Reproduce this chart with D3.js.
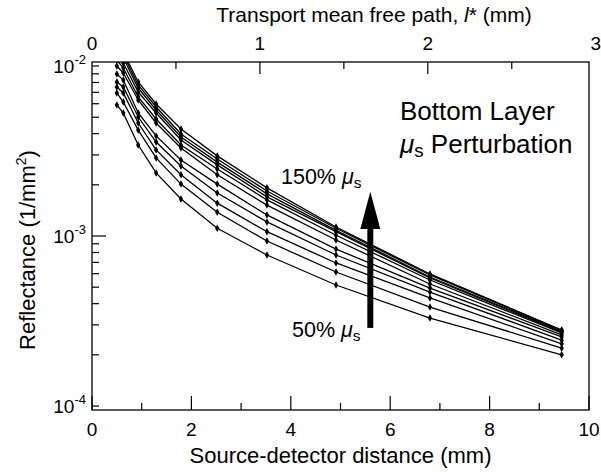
<!DOCTYPE html>
<html><head><meta charset="utf-8">
<script src="https://cdn.jsdelivr.net/npm/d3@7"></script>
<style>
body{margin:0;background:#fff}
svg{display:block}
text{font-family:"Liberation Sans",Arial,Helvetica,sans-serif;fill:#000}
</style>
</head><body><div id="chart"></div>
<script>
// ---- data ----
const distances = [0.5, 0.63, 0.93, 1.29, 1.79, 2.52, 3.52, 4.91, 6.8, 9.45]; // mm
const seriesLabels = ["50%","60%","70%","80%","90%","100%","110%","120%","130%","140%","150%"];
const r50  = [0.0059, 0.00529, 0.00343, 0.00235, 0.00165, 0.00111, 0.000773, 0.000515, 0.000329, 0.000200];
const r60  = [0.00694, 0.00614, 0.0042, 0.00288, 0.00202, 0.00138, 0.000934, 0.000614, 0.000382, 0.000219];
const r70  = [0.00753, 0.00694, 0.00462, 0.00321, 0.00229, 0.00156, 0.00106, 0.000694, 0.000432, 0.000232];
const r80  = [0.00805, 0.00753, 0.00501, 0.00357, 0.00258, 0.00179, 0.00121, 0.000773, 0.000468, 0.000244];
const r90  = [0.00897, 0.00827, 0.00529, 0.00388, 0.0028, 0.00202, 0.00133, 0.000838, 0.000494, 0.000255];
const r100 = [0.0100, 0.00909, 0.00631, 0.00462, 0.00329, 0.00229, 0.00152, 0.000947, 0.000522, 0.000262];
const r110 = [0.01085, 0.00973, 0.00657, 0.00488, 0.00343, 0.00248, 0.00163, 0.00101, 0.000551, 0.000269];
const r120 = [0.01145, 0.01041, 0.00703, 0.00529, 0.00367, 0.00262, 0.0017, 0.00106, 0.000566, 0.000272];
const r130 = [0.01225, 0.01115, 0.00742, 0.00551, 0.00382, 0.00272, 0.00177, 0.00108, 0.000574, 0.000276];
const r140 = [0.01276, 0.01161, 0.00773, 0.00574, 0.00398, 0.00284, 0.00184, 0.00111, 0.00059, 0.000279];
const r150 = [0.01329, 0.01209, 0.00805, 0.00598, 0.00426, 0.00296, 0.00192, 0.00113, 0.000598, 0.00028];
const seriesValues = [r50, r60, r70, r80, r90, r100, r110, r120, r130, r140, r150];

const xTicksMajor = [0, 2, 4, 6, 8, 10];
const xTicksMinor = [1, 3, 5, 7, 9];
const topTicksLabels = [0, 1, 2, 3];
const topTicksAll = [0.5, 1, 1.5, 2, 2.5];
const yDecades = [1e-4, 1e-3, 1e-2];
const yDecadeExp = ["-4", "-3", "-2"];

// ---- layout ----
const W = 601, H = 472;
const L = 92, R = 589, T = 62, B = 410;

const svg = d3.select("#chart").append("svg").attr("width", W).attr("height", H);

const x = d3.scaleLinear().domain([0, 10]).range([L, R]);
const xTop = d3.scaleLinear().domain([0, 2.96]).range([L, R]);
const y = d3.scaleLog().domain([9.473e-5, 0.010557]).range([B, T]);

svg.append("defs").append("clipPath").attr("id", "clip")
  .append("rect").attr("x", L).attr("y", T).attr("width", R - L).attr("height", B - T);

// frame
svg.append("rect").attr("x", L).attr("y", T).attr("width", R - L).attr("height", B - T)
  .attr("fill", "none").attr("stroke", "#000").attr("stroke-width", 1.3);

// bottom ticks (inward)
const tickG = svg.append("g").attr("stroke", "#000").attr("stroke-width", 1.2);
xTicksMajor.forEach(v => tickG.append("line").attr("x1", x(v)).attr("x2", x(v)).attr("y1", B).attr("y2", B - 14));
xTicksMinor.forEach(v => tickG.append("line").attr("x1", x(v)).attr("x2", x(v)).attr("y1", B).attr("y2", B - 7));
svg.append("g").selectAll("text").data(xTicksMajor).join("text")
  .attr("x", d => x(d)).attr("y", 436).attr("text-anchor", "middle").attr("font-size", 19)
  .text(d => d);

// top ticks
topTicksAll.forEach(v => tickG.append("line").attr("x1", xTop(v)).attr("x2", xTop(v)).attr("y1", T)
  .attr("y2", T + (Number.isInteger(v) ? 12 : 7)));
svg.append("g").selectAll("text").data(topTicksLabels).join("text")
  .attr("x", d => xTop(d)).attr("y", 50).attr("text-anchor", "middle").attr("font-size", 19)
  .text(d => d);

// y ticks (log)
const yMinor = [];
[1e-4, 1e-3].forEach(dec => { for (let k = 2; k <= 9; k++) yMinor.push(dec * k); });
yMinor.forEach(v => tickG.append("line").attr("x1", L).attr("x2", L + 7).attr("y1", y(v)).attr("y2", y(v)));
yDecades.forEach(v => tickG.append("line").attr("x1", L).attr("x2", L + (v === 1e-3 ? 14 : 7)).attr("y1", y(v)).attr("y2", y(v)));
yDecades.forEach((v, i) => {
  const t = svg.append("text").attr("x", 86).attr("y", y(v) + 7).attr("text-anchor", "end").attr("font-size", 19);
  t.append("tspan").text("10");
  t.append("tspan").attr("font-size", 13).attr("dy", -9).text(yDecadeExp[i]);
});

// axis titles
const tt = svg.append("text").attr("x", 374).attr("y", 22).attr("text-anchor", "middle").attr("font-size", 21);
tt.append("tspan").text("Transport mean free path, ");
tt.append("tspan").attr("font-style", "italic").text("l");
tt.append("tspan").text("* (mm)");

svg.append("text").attr("x", (L + R) / 2).attr("y", 463).attr("text-anchor", "middle").attr("font-size", 22)
  .text("Source-detector distance (mm)");

const yl = svg.append("text").attr("transform", "translate(35,250) rotate(-90)").attr("text-anchor", "middle").attr("font-size", 22);
yl.append("tspan").text("Reflectance (1/mm");
yl.append("tspan").attr("font-size", 14).attr("dy", -9).text("2");
yl.append("tspan").attr("dy", 9).text(")");

// curves
const plot = svg.append("g").attr("clip-path", "url(#clip)");
const line = d3.line().x((d, i) => x(distances[i])).y(d => y(d));
seriesValues.forEach(vals => {
  plot.append("path").datum(vals).attr("d", line).attr("fill", "none").attr("stroke", "#000").attr("stroke-width", 1.3);
  plot.append("g").selectAll("path").data(vals).join("path")
    .attr("transform", (d, i) => `translate(${x(distances[i])},${y(d)})`)
    .attr("d", d3.symbol().type(d3.symbolDiamond).size(16)).attr("fill", "#000");
});

// annotations
function muS(sel, xPos, yPos, prefix, size) {
  const t = sel.append("text").attr("x", xPos).attr("y", yPos).attr("font-size", size);
  if (prefix) t.append("tspan").text(prefix);
  t.append("tspan").attr("font-style", "italic").text("\u03bc");
  t.append("tspan").attr("font-size", size * 0.72).attr("dy", 4).text("s");
  return t;
}
svg.append("text").attr("x", 400).attr("y", 120).attr("font-size", 26).text("Bottom Layer");
const pt = muS(svg, 400, 153, "", 26);
pt.append("tspan").attr("dy", -4).text(" Perturbation");

muS(svg, 281, 184, "150% ", 21.5);
muS(svg, 292, 337, "50% ", 21.5);

// arrow
const ax = x(5.6);
const tipY = y(1.82e-3), baseY = y(1.1e-3), tailY = y(2.88e-4);
svg.append("rect").attr("x", ax - 3).attr("y", baseY - 1).attr("width", 6).attr("height", tailY - baseY + 1).attr("fill", "#000");
svg.append("path").attr("d", `M${ax - 10},${baseY} L${ax + 10},${baseY} L${ax},${tipY} Z`).attr("fill", "#000");
</script>
</body></html>
